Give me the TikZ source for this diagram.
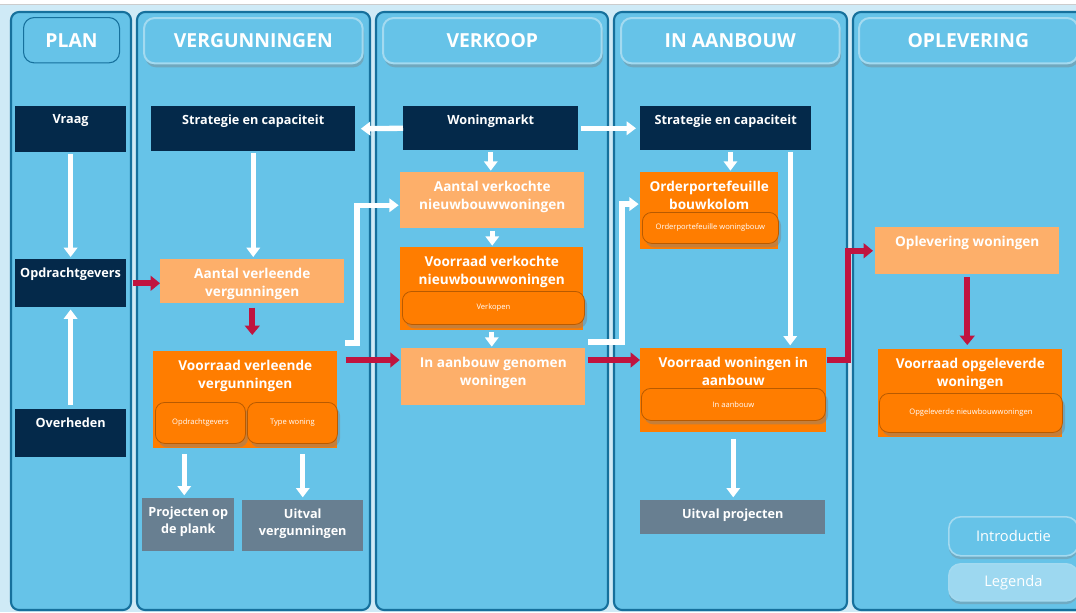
\documentclass[tikz,border=0pt]{standalone}
\usepackage{fontspec}
\setmainfont{Open Sans}
\usetikzlibrary{arrows.meta,shadows}

\definecolor{achtergrond}{HTML}{CFEAF6}
\definecolor{kolomvlak}{HTML}{66C3E8}
\definecolor{kolomrand}{HTML}{16709C}
\definecolor{koprand}{HTML}{A3DAF0}
\definecolor{donkerblauw}{HTML}{04294A}
\definecolor{lichtoranje}{HTML}{FDAF6A}
\definecolor{oranje}{HTML}{FF7D00}
\definecolor{oranjerand}{HTML}{B85A00}
\definecolor{grijsblauw}{HTML}{687F91}
\definecolor{rood}{HTML}{C0143F}
\definecolor{knoplicht}{HTML}{9DD8F0}

\tikzset{
  kolom/.style={draw=kolomrand, line width=1.6pt, fill=kolomvlak, rounded corners=6pt},
  kopbasis/.style={fill=kolomvlak, rounded corners=8pt, anchor=north west,
    minimum height=34pt, inner sep=0pt, text=white,
    font=\bfseries\fontsize{14.5}{16}\selectfont},
  kop/.style={kopbasis, draw=koprand, line width=1.5pt,
    drop shadow={opacity=.4, shadow xshift=1pt, shadow yshift=-3pt}},
  blok/.style={anchor=north west, inner sep=0pt},
  tekst/.style={anchor=north, inner sep=0pt, yshift=-6.5pt, text=white, align=center,
    font=\bfseries\fontsize{10.2}{13.5}\selectfont},
  tekstklein/.style={tekst, font=\bfseries\fontsize{9.5}{13}\selectfont},
  donker/.style={blok, fill=donkerblauw},
  licht/.style={blok, fill=lichtoranje},
  voorraad/.style={blok, fill=oranje},
  uitval/.style={blok, fill=grijsblauw},
  deel/.style={anchor=north west, inner sep=0pt, fill=oranje, draw=oranjerand, line width=.6pt,
    rounded corners=7pt, drop shadow={opacity=.45, shadow xshift=2pt, shadow yshift=-3pt},
    text=white, font=\fontsize{5.7}{6}\selectfont},
  knop/.style={anchor=north west, inner sep=0pt, draw=koprand, line width=1.2pt,
    rounded corners=9pt, drop shadow={opacity=.35, shadow xshift=0pt, shadow yshift=-2.5pt},
    text=white, font=\fontsize{11}{12}\selectfont, minimum width=97pt},
  wit/.style={draw=white, line width=4pt, -{Triangle[width=10pt,length=7pt]}},
  rd/.style={draw=rood, line width=4.5pt, -{Triangle[width=11pt,length=7pt]}}
}

\begin{document}
\begin{tikzpicture}[x=0.75pt, y=-0.75pt]
    \useasboundingbox (0,0) rectangle (1076,612);
    \fill[white] (0,0) rectangle (1076,612);
    \fill[achtergrond] (0,5) rectangle (1076,612);
    \draw[black!20] (0,4.5) -- (1076,4.5);

    % kolommen
    \foreach \l/\r in {11/131,137/370,376/608,614/847,853/1095}
        {\draw[kolom] (\l,12) rectangle (\r,610);}

    % koppen
    \node[kopbasis, draw=kolomrand, line width=.8pt, minimum width=72pt] (plan) at (23,17) {PLAN};
    \foreach \x/\naam/\titel in {143/verg/VERGUNNINGEN,382/verk/VERKOOP,620/bouw/IN AANBOUW,858/oplev/OPLEVERING}
        {\node[kop, minimum width=164pt] (\naam) at (\x,17) {\titel};}

    % plan
    \node[donker, minimum width=83pt, minimum height=34.5pt, label={[tekstklein]north:Vraag}] (vraag) at (15,106) {};
    \node[donker, minimum width=83pt, minimum height=36pt, label={[tekstklein]north:Opdrachtgevers}] (opdr) at (15,259) {};
    \node[donker, minimum width=83pt, minimum height=36pt, label={[tekstklein]north:Overheden}] (overh) at (15,409) {};

    % vergunningen
    \node[donker, minimum width=153pt, minimum height=33.75pt, label={[tekstklein]north:Strategie en capaciteit}] (strat1) at (151,106) {};
    \node[licht, minimum width=138pt, minimum height=33pt, label={[tekst]north:{Aantal verleende\\vergunningen}}] (aantverl) at (160,259) {};
    \node[voorraad, minimum width=138pt, minimum height=72.75pt, label={[tekst]north:{Voorraad verleende\\vergunningen}}] (vrverl) at (153,351) {};
    \node[deel, minimum width=67.5pt, minimum height=30.75pt] (dOpdr) at (155,402) {Opdrachtgevers};
    \node[deel, minimum width=67.5pt, minimum height=30.75pt] (dType) at (247,402) {Type woning};
    \node[uitval, minimum width=69pt, minimum height=39.75pt, label={[tekstklein]north:{Projecten op\\de plank}}] (proj) at (142,498) {};
    \node[uitval, minimum width=90.75pt, minimum height=38.25pt, label={[tekstklein]north:{Uitval\\vergunningen}}] (uitvverg) at (242,500) {};

    % verkoop
    \node[donker, minimum width=131.25pt, minimum height=33pt, label={[tekstklein]north:Woningmarkt}] (markt) at (403,106) {};
    \node[licht, minimum width=138pt, minimum height=42pt, label={[tekst]north:{Aantal verkochte\\nieuwbouwwoningen}}] (aantverk) at (400,172) {};
    \node[voorraad, minimum width=137.25pt, minimum height=62.25pt, label={[tekst]north:{Voorraad verkochte\\nieuwbouwwoningen}}] (vrverk) at (400,247) {};
    \node[deel, minimum width=136.5pt, minimum height=24.75pt] (dVerk) at (402,291) {Verkopen};
    \node[licht, minimum width=138pt, minimum height=42.75pt, label={[tekst]north:{In aanbouw genomen\\woningen}}] (genomen) at (401,348) {};

    % in aanbouw
    \node[donker, minimum width=128.25pt, minimum height=33pt, label={[tekstklein]north:Strategie en capaciteit}] (strat2) at (640,106) {};
    \node[voorraad, minimum width=103.5pt, minimum height=57.75pt, label={[tekst]north:{Orderportefeuille\\bouwkolom}}] (order) at (640,172) {};
    \node[deel, minimum width=102pt, minimum height=23.25pt] (dOrder) at (642,212) {Orderportefeuille woningbouw};
    \node[voorraad, minimum width=139.5pt, minimum height=63pt, label={[tekst]north:{Voorraad woningen in\\aanbouw}}] (vrbouw) at (640,348) {};
    \node[deel, minimum width=138pt, minimum height=24pt] (dBouw) at (641,388) {In aanbouw};
    \node[uitval, minimum width=138.75pt, minimum height=25.5pt, label={[tekstklein]north:Uitval projecten}] (uitvproj) at (640,500) {};

    % oplevering
    \node[licht, minimum width=138pt, minimum height=35.25pt, label={[tekst]north:Oplevering woningen}] (opl) at (875,227) {};
    \node[voorraad, minimum width=138pt, minimum height=66pt, label={[tekst]north:{Voorraad opgeleverde\\woningen}}] (vropg) at (878,349) {};
    \node[deel, minimum width=137.25pt, minimum height=29.25pt] (dOpg) at (879,393) {Opgeleverde nieuwbouwwoningen};
    \node[knop, fill=kolomvlak, minimum height=29.25pt] (intro) at (948,516) {Introductie};
    \node[knop, fill=knoplicht, minimum height=27.75pt] (legenda) at (948,563) {Legenda};

    % witte pijlen
    \draw[wit, shorten <=1pt, shorten >=1.5pt] (vraag.south) -- (opdr.north);
    \draw[wit, shorten <=3pt, shorten >=1.5pt] (overh.north) -- (opdr.south);
    \draw[wit, shorten <=1pt, shorten >=1.5pt] (strat1.south) -- (strat1.south |- aantverl.north);
    \draw[wit, shorten >=4pt] (markt.west) -- (strat1.east);
    \draw[wit, shorten <=2pt, shorten >=3pt] (markt.east) -- (strat2.west);
    \draw[wit, shorten <=1pt, shorten >=1pt] (markt.south) -- (markt.south |- aantverk.north);
    \draw[wit, shorten <=1.5pt, shorten >=1pt] (aantverk.south) -- (aantverk.south |- vrverk.north);
    \draw[wit, shorten <=1pt, shorten >=1pt] (vrverk.south) -- (vrverk.south |- genomen.north);
    \coordinate (s2a) at ([xshift=3.5pt]strat2.south);
    \coordinate (s2b) at ([xshift=-16pt]strat2.south east);
    \draw[wit, shorten <=1pt, shorten >=1pt] (s2a) -- (s2a |- order.north);
    \draw[wit, shorten <=1pt, shorten >=2pt] (s2b) -- (s2b |- vrbouw.north);
    \coordinate (k1) at (345,343);
    \coordinate (k2) at (588,342);
    \draw[wit, shorten >=1pt] (k1) -- (357,343) |- ([yshift=-3.75pt]aantverk.west);
    \draw[wit, shorten >=1pt] (k2) -- (622,342) |- ([yshift=5pt]order.west);
    \coordinate (p1) at ([xshift=-3pt]proj.north);
    \draw[wit, shorten <=4pt, shorten >=2pt] (p1 |- vrverl.south) -- (p1);
    \draw[wit, shorten <=4pt, shorten >=2pt] (uitvverg.north |- vrverl.south) -- (uitvverg.north);
    \draw[wit, shorten <=4.5pt, shorten >=2pt] (vrbouw.south) -- (vrbouw.south |- uitvproj.north);

    % rode pijlen
    \draw[rd, shorten <=5pt] (opdr.east) -- (opdr.east -| aantverl.west);
    \draw[rd, shorten <=3pt, shorten >=12pt] (aantverl.south) -- (aantverl.south |- vrverl.north);
    \coordinate (r1) at ([yshift=-6.75pt]vrverl.north east);
    \coordinate (r2) at ([yshift=-9pt]genomen.north east);
    \coordinate (r3) at ([yshift=-9pt]vrbouw.north east);
    \draw[rd, shorten <=6pt, shorten >=1pt] (r1) -- (r1 -| genomen.west);
    \draw[rd, shorten <=1.5pt] (r2) -- (r2 -| vrbouw.west);
    \draw[rd, shorten >=1.5pt] (r3) -- ++(16pt,0) |- (opl.west);
    \draw[rd, shorten <=2pt, shorten >=3pt] (opl.south) -- (opl.south |- vropg.north);
\end{tikzpicture}
\end{document}
